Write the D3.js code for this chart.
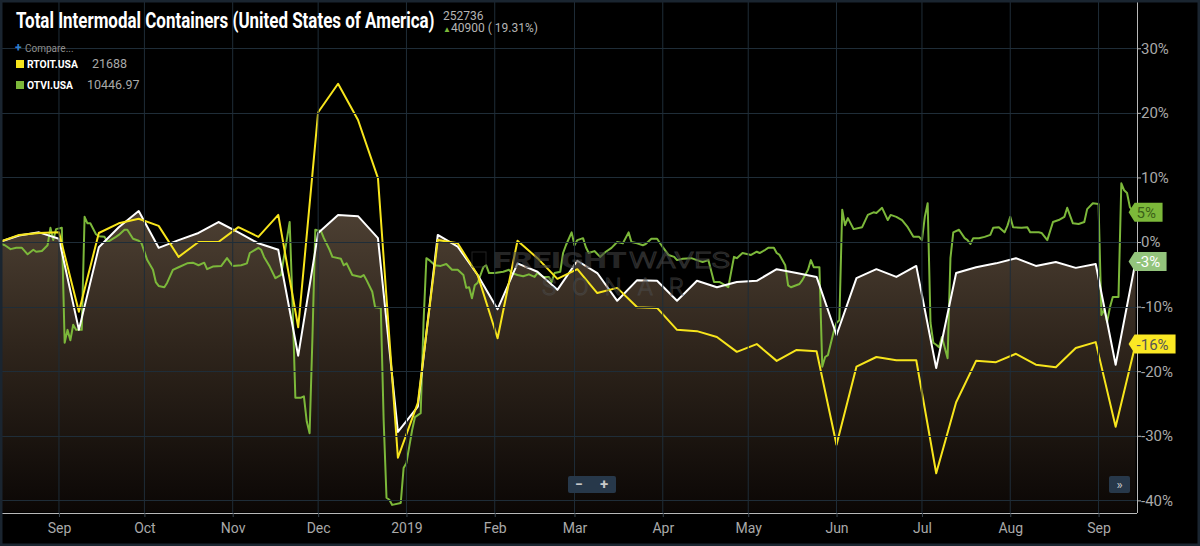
<!DOCTYPE html>
<html>
<head>
<meta charset="utf-8">
<script src="https://cdn.jsdelivr.net/npm/d3@7"></script>
<style>
  html, body { margin: 0; padding: 0; background: #000; }
  svg { display: block; }
  text { font-family: Roboto, "Noto Sans", sans-serif; }
</style>
</head>
<body>
<svg id="chart" width="1200" height="546"></svg>
<script>
// ---------------- DATA ----------------
const monthTicks = ["2018-09-01","2018-10-01","2018-11-01","2018-12-01","2019-01-01","2019-02-01","2019-03-01","2019-04-01","2019-05-01","2019-06-01","2019-07-01","2019-08-01","2019-09-01"];
const monthLabels = ["Sep","Oct","Nov","Dec","2019","Feb","Mar","Apr","May","Jun","Jul","Aug","Sep"];
const yTicks = [30, 20, 10, 0, -10, -20, -30, -40];

// weekly series, first week ending 2018-08-11, one value per week
const weeklyStart = "2018-08-11";
const totalIntermodal = [0, 1.0, 1.5, 0.5, -13.6, -0.8, 2.3, 4.8, -0.9, 0.3, 1.4, 3.1, 1.5, -0.2, -1.2, -17.6,
  1.4, 4.2, 4.0, 0.6, -29.4, -25.5, 1.1, -0.7, -5.1, -10.4, -3.3, -4.6, -7.4, -2.9, -4.8, -9.1, -5.9, -6.0,
  -9.1, -6.0, -7.0, -6.2, -6.0, -4.2, -4.8, -5.4, -14.4, -5.6, -4.2, -5.4, -3.7, -19.5, -4.8, -3.9, -3.3,
  -2.5, -3.7, -3.1, -4.0, -3.4, -19.0, -3.0];
const rtoit = [0, 1.1, 1.4, 1.5, -10.8, 1.4, 2.9, 3.6, 2.5, -2.3, 0, 0, 2.3, 0.8, 4.2, -13.2,
  20.1, 24.5, 18.9, 9.9, -33.4, -24.9, 0.3, -0.2, -5.1, -14.9, 0.2, -2.5, -5.7, -4.2, -7.9, -7.1, -10.1, -10.2,
  -13.6, -13.8, -14.7, -17.0, -15.8, -18.4, -16.7, -16.9, -31.4, -19.3, -17.8, -18.3, -18.3, -35.8, -24.8, -18.4, -18.6,
  -17.3, -19.0, -19.4, -16.4, -15.5, -28.6, -15.8];

// daily series OTVI: [days since 2018-08-12, value]
const otviStart = "2018-08-12";
const otvi = [[-1,-0.2],[1,-0.5],[3,-1.1],[5,-0.9],[7,-0.9],[9,-1.9],[11,-1.2],[12,-1.5],[14,-1.4],[16,-0.5],[17,2.2],[18,0.3],[19,2.0],[21,2.2],
[22,-15.6],[23,-13.6],[24,-15.2],[25,-12.8],[26,-13.6],[28,-13.6],[29,3.9],[30,2.9],[31,2.9],[33,1.2],[34,0.9],[36,0.8],[37,0],[40,0.8],[41,1.1],
[43,1.9],[44,1.9],[46,0.5],[48,0.2],[49,-0.2],[51,-2.8],[53,-4.3],[54,-6.2],[55,-6.8],[57,-7.0],[58,-6.3],[60,-4.3],[62,-3.9],[65,-3.3],[67,-3.2],
[69,-3.6],[71,-3.2],[72,-4.2],[74,-3.8],[77,-3.7],[79,-2.5],[81,-3.7],[84,-3.6],[86,-3.3],[87,-1.7],[90,-0.9],[91,-1.2],[92,-2.3],[94,-3.8],[96,-5.6],
[98,-5.1],[99,-2.3],[101,3.1],[102,-9.4],[103,-24.1],[105,-24.1],[106,-23.9],[107,-27.8],[108,-29.6],[109,-14.7],[110,1.9],[112,1.7],[113,0.6],
[115,-1.2],[116,-2.3],[119,-2.6],[120,-3.6],[121,-3.3],[123,-5.1],[126,-5.4],[127,-5.1],[128,-5.9],[130,-7.7],[131,-10.1],[133,-10.2],[134,-27.6],
[135,-39.6],[136,-39.9],[137,-40.7],[140,-40.4],[141,-35],[142,-34.2],[144,-29.1],[145,-27.1],[147,-26.5],[148,-12.5],[149,-2.5],[150,-2.8],[152,-3.6],
[154,-3.7],[156,-3.4],[158,-4.3],[160,-4.3],[162,-5.1],[163,-7.1],[164,-7.0],[165,-8.7],[166,-6.7],[167,-6.3],[169,-3.9],[170,-3.6],[171,-4.8],[173,-4.8],
[176,-4.6],[178,-4.3],[179,-4.8],[181,-5.1],[183,-5.3],[185,-5.0],[187,-5.4],[188,-4.8],[190,-5.4],[192,-5.4],[193,-6.2],[194,-4.8],[196,-4.6],[197,-1.7],
[198,-0.5],[200,1.5],[201,-0.5],[202,0.3],[204,0.6],[205,-0.8],[206,-1.7],[208,-1.4],[210,-2.3],[212,-1.5],[214,-0.9],[216,0],[218,-0.2],[220,1.5],
[221,0],[223,-0.2],[225,-0.5],[226,-0.3],[228,0.5],[230,0.5],[232,-0.8],[234,-2.0],[236,-2.3],[237,-2.8],[239,-2.6],[242,-2.5],[244,-2.8],[246,-3.1],
[248,-2.8],[250,-6.2],[252,-6.2],[254,-6.7],[255,-7.0],[257,-2.3],[258,-2.5],[260,-1.7],[263,-2.0],[265,-1.5],[266,-1.7],[268,-1.2],[269,-0.9],[271,-0.9],
[272,-1.7],[273,-2.0],[275,-3.6],[276,-6.7],[277,-7.0],[280,-6.5],[281,-5.9],[283,-4.3],[284,-2.8],[285,-3.9],[286,-3.9],[287,-3.9],[288,-19.3],
[289,-17.8],[290,-17.5],[292,-13.9],[293,-12.5],[294,-12.1],[295,5.0],[296,2.6],[297,3.7],[299,2.0],[302,2.3],[304,4.2],[306,4.6],[307,4.5],[309,5.3],
[311,3.4],[312,4.2],[314,3.9],[316,3.4],[318,2.3],[320,0.8],[322,0.8],[323,0.3],[324,3.9],[325,6.0],[326,-12.5],[327,-15.6],[328,-15.9],[329,-16.3],
[330,-14.7],[332,-18.0],[333,-2.5],[334,1.5],[336,1.9],[338,0.6],[339,0.3],[340,-0.3],[341,0.6],[343,0.6],[345,0.8],[347,1.1],[348,2.2],[350,2.3],
[352,1.5],[353,2.5],[354,3.9],[355,2.3],[358,2.2],[360,2.3],[361,1.5],[364,1.5],[365,1.4],[367,0.3],[369,3.1],[371,3.4],[373,3.9],[374,5.3],[376,2.9],
[378,2.8],[380,3.1],[381,5.1],[383,6.0],[385,5.9],[386,-11.3],[387,-10.5],[388,-12.4],[389,-10.1],[390,-8.5],[392,-8.5],[393,9.1],[394,8.0],[395,7.6],
[396,5.4],[397,4.8],[398,4.6]];

const flagLabels = ["5%", "-3%", "-16%"];

// ---------------- SCALES ----------------
const parse = d3.timeParse("%Y-%m-%d");
const svg = d3.select("#chart");
const W = 1200, H = 546;
const plot = {left: 2, right: 1137, top: 5, bottom: 512};

const x = d3.scaleTime()
  .domain([parse("2018-08-12"), d3.timeHour.offset(parse("2019-09-14"), 12)])
  .range([plot.left, plot.right]);
const y = d3.scaleLinear().domain([-41.8, 36.7]).range([plot.bottom, plot.top]);

const wStart = parse(weeklyStart);
const weekDates = totalIntermodal.map((_, i) => d3.timeDay.offset(wStart, 7 * i));
const whiteData = totalIntermodal.map((v, i) => ({d: weekDates[i], v}));
const yellowData = rtoit.map((v, i) => ({d: weekDates[i], v}));
const gStart = parse(otviStart);
const greenData = otvi.map(([k, v]) => ({d: d3.timeDay.offset(gStart, k), v}));

// helper: fit a text horizontally to a target width via transform
function fitWidth(sel, targetW, allowStretch) {
  const node = sel.node();
  const natural = node.getComputedTextLength();
  let k = targetW / natural;
  if (!allowStretch) k = Math.min(1, k);
  const x0 = +sel.attr("x");
  sel.attr("transform", `translate(${x0 * (1 - k)},0) scale(${k},1)`);
  return sel;
}

// ---------------- BACKGROUND ----------------
svg.append("rect").attr("width", W).attr("height", H).attr("fill", "#000");

const defs = svg.append("defs");
const grad = defs.append("linearGradient").attr("id", "areaGrad")
  .attr("gradientUnits", "userSpaceOnUse").attr("x1", 0).attr("x2", 0)
  .attr("y1", y(5)).attr("y2", plot.bottom);
grad.append("stop").attr("offset", 0).attr("stop-color", "#4d4033");
grad.append("stop").attr("offset", 0.45).attr("stop-color", "#2f251c");
grad.append("stop").attr("offset", 1).attr("stop-color", "#0b0705");
defs.append("clipPath").attr("id", "clip").append("rect")
  .attr("x", plot.left).attr("y", plot.top)
  .attr("width", plot.right - plot.left).attr("height", plot.bottom - plot.top + 1);

// ---------------- AREA (under white) ----------------
const g = svg.append("g").attr("clip-path", "url(#clip)");
g.append("path").datum(whiteData)
  .attr("fill", "url(#areaGrad)")
  .attr("d", d3.area().x(d => x(d.d)).y0(plot.bottom).y1(d => y(d.v)));

// ---------------- GRID ----------------
const grid = svg.append("g");
grid.selectAll("line.v").data(monthTicks).join("line")
  .attr("x1", d => x(parse(d))).attr("x2", d => x(parse(d)))
  .attr("y1", 0).attr("y2", plot.bottom + 1)
  .attr("stroke", "#1f2d38").attr("stroke-width", 1);
grid.selectAll("line.h").data(yTicks).join("line")
  .attr("x1", plot.left).attr("x2", plot.right)
  .attr("y1", d => Math.round(y(d)) + 0.5).attr("y2", d => Math.round(y(d)) + 0.5)
  .attr("stroke", "#1f2d38").attr("stroke-width", 1);

// ---------------- WATERMARK ----------------
const wm = svg.append("g").attr("opacity", 0.6);
wm.append("rect").attr("x", 472).attr("y", 252).attr("width", 14).attr("height", 15).attr("fill", "none").attr("stroke", "#3a3a3a");
fitWidth(wm.append("text").attr("x", 493).attr("y", 268).attr("font-size", 22.5).attr("font-weight", 900)
  .attr("fill", "#3e3e3e").text("FREIGHT"), 134, true);
fitWidth(wm.append("text").attr("x", 629).attr("y", 268).attr("font-size", 22.5).attr("font-weight", 300)
  .attr("fill", "none").attr("stroke", "#4c4c4c").attr("stroke-width", 1).text("WAVES"), 101, true);
wm.append("text").attr("x", 542).attr("y", 295).attr("font-size", 24).attr("font-weight", 300)
  .attr("fill", "none").attr("stroke", "#4c4c4c").attr("stroke-width", 1)
  .attr("letter-spacing", 16).text("SONAR");

// ---------------- LINES ----------------
const line = d3.line().x(d => x(d.d)).y(d => y(d.v));
g.append("path").datum(greenData).attr("fill", "none").attr("stroke", "#7cb83a").attr("stroke-width", 2)
  .attr("stroke-linejoin", "round").attr("d", line);
g.append("path").datum(whiteData).attr("fill", "none").attr("stroke", "#ffffff").attr("stroke-width", 2)
  .attr("stroke-linejoin", "round").attr("d", line);
g.append("path").datum(yellowData).attr("fill", "none").attr("stroke", "#f7e51c").attr("stroke-width", 2)
  .attr("stroke-linejoin", "round").attr("d", line);

// ---------------- AXES ----------------
const axisColor = "#b9b9b9";
const xAxis = svg.append("g").attr("transform", `translate(0,${plot.bottom + 1})`)
  .call(d3.axisBottom(x).tickValues(monthTicks.map(parse)).tickFormat((d, i) => monthLabels[i]).tickSize(4).tickSizeOuter(0));
xAxis.select(".domain").attr("stroke", axisColor).attr("d", `M${plot.left},0.5H${plot.right}`);
xAxis.selectAll(".tick line").attr("stroke", "#3a4650");
xAxis.selectAll(".tick text").attr("fill", "#a9a9a9").attr("font-size", 14)
  .attr("font-family", "Roboto, sans-serif").attr("dy", "0.9em");

const yAxis = svg.append("g").attr("transform", `translate(${plot.right},0)`)
  .call(d3.axisRight(y).tickValues(yTicks).tickFormat(d => d + "%").tickSize(4).tickSizeOuter(0));
yAxis.select(".domain").attr("stroke", axisColor).attr("d", `M0.5,0V${plot.bottom + 1}`);
yAxis.selectAll(".tick line").attr("stroke", axisColor);
yAxis.selectAll(".tick text").attr("fill", "#a9a9a9").attr("font-size", 15).attr("x", 4);

// ---------------- FLAGS ----------------
const flags = [
  {v: greenData[greenData.length - 1].v, label: flagLabels[0], fill: "#7cb83a", text: "#3b6118", w: 28},
  {v: whiteData[whiteData.length - 1].v, label: flagLabels[1], fill: "#93c47c", text: "#ffffff", w: 32},
  {v: yellowData[yellowData.length - 1].v, label: flagLabels[2], fill: "#fbe824", text: "#555555", w: 41}
];
const tipX = x(d3.timeDay.offset(gStart, 398)) - 7;
flags.forEach(f => {
  const cy = y(f.v);
  const fg = svg.append("g");
  fg.append("path")
    .attr("d", `M${tipX},${cy} L${tipX + 6},${cy - 9.5} H${tipX + 6 + f.w} V${cy + 9.5} H${tipX + 6} Z`)
    .attr("fill", f.fill);
  fg.append("text").attr("x", tipX + 8).attr("y", cy + 5.5).attr("font-size", 15)
    .attr("fill", f.text).text(f.label);
});

// ---------------- BUTTONS ----------------
svg.append("rect").attr("x", 568).attr("y", 476).attr("width", 48).attr("height", 17).attr("rx", 2).attr("fill", "#27384a");
svg.append("text").attr("x", 579).attr("y", 489).attr("font-size", 14).attr("font-weight", 700).attr("fill", "#c9c9c9").attr("text-anchor", "middle").text("−");
svg.append("text").attr("x", 604).attr("y", 489).attr("font-size", 15).attr("font-weight", 700).attr("fill", "#c9c9c9").attr("text-anchor", "middle").text("+");
svg.append("rect").attr("x", 1109).attr("y", 476).attr("width", 21).attr("height", 17).attr("rx", 2).attr("fill", "#27384a");
svg.append("text").attr("x", 1119.5).attr("y", 489).attr("font-size", 13).attr("fill", "#c9c9c9").attr("text-anchor", "middle").text("»");

// ---------------- TITLE & LEGEND ----------------
fitWidth(svg.append("text").attr("x", 16).attr("y", 28).attr("font-size", 22).attr("font-weight", 700)
  .attr("fill", "#ffffff").text("Total Intermodal Containers (United States of America)"), 419, false);
svg.append("text").attr("x", 443).attr("y", 20).attr("font-size", 12).attr("fill", "#b5b5b5").text("252736");
svg.append("text").attr("x", 443).attr("y", 32).attr("font-size", 8).attr("fill", "#7cb83a").text("▲");
svg.append("text").attr("x", 451).attr("y", 32).attr("font-size", 12).attr("fill", "#b5b5b5").text("40900 ( 19.31%)");

svg.append("text").attr("x", 15).attr("y", 52).attr("font-size", 12).attr("font-weight", 700).attr("fill", "#2f7fd0").text("+");
svg.append("text").attr("x", 25).attr("y", 52).attr("font-size", 10).attr("fill", "#8f8f8f").text("Compare...");

const legend = [
  {name: "RTOIT.USA", val: "21688", color: "#f7e51c", y: 68, nw: 51, vx: 92},
  {name: "OTVI.USA", val: "10446.97", color: "#7cb83a", y: 89, nw: 46, vx: 87}
];
legend.forEach(l => {
  svg.append("rect").attr("x", 16).attr("y", l.y - 8).attr("width", 8).attr("height", 8).attr("fill", l.color);
  fitWidth(svg.append("text").attr("x", 27).attr("y", l.y).attr("font-size", 11.5).attr("font-weight", 700)
    .attr("fill", "#ffffff").text(l.name), l.nw, false);
  svg.append("text").attr("x", l.vx).attr("y", l.y).attr("font-size", 12.5).attr("fill", "#a9a9a9").text(l.val);
});

// ---------------- FRAME ----------------
svg.append("rect").attr("x", 1).attr("y", 1).attr("width", W - 2).attr("height", H - 2)
  .attr("fill", "none").attr("stroke", "#1a2530").attr("stroke-width", 3);
</script>
</body>
</html>
